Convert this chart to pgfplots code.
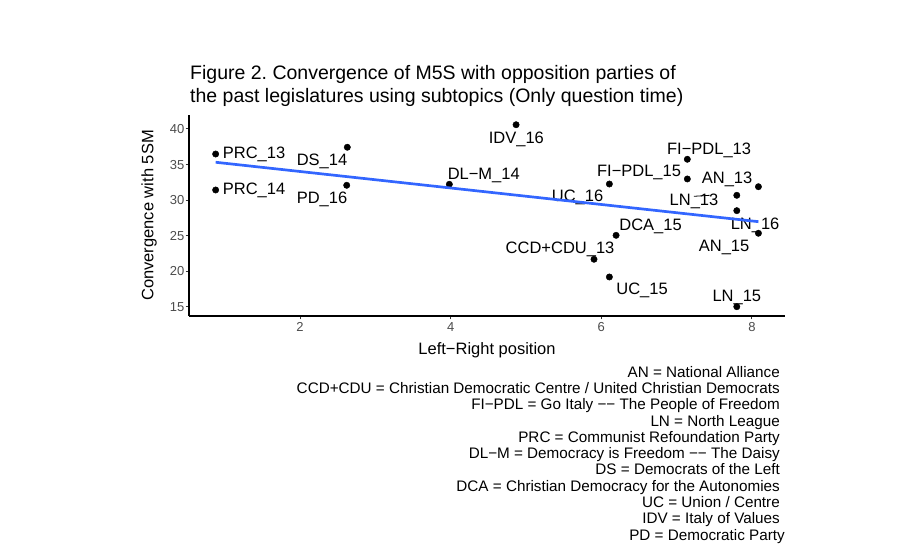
\documentclass[border=0pt]{standalone}
\usepackage{fontspec}
\setmainfont{Liberation Sans}
\usepackage{pgfplots}
\pgfplotsset{compat=1.18}
\definecolor{smoothblue}{RGB}{51,102,255}
\newcommand{\lab}{\fontsize{16.5}{16.5}\selectfont}
\newcommand{\notefont}{\fontsize{15.25}{15.25}\selectfont}
\frenchspacing
\pgfplotsset{
  common/.style={
    at={(189pt,241pt)}, anchor=south west,
    scale only axis, width=596pt, height=201pt,
    xmin=0.526, xmax=8.44, ymin=13.69, ymax=41.97,
    clip=false,
  }
}
\begin{document}
\begin{tikzpicture}[x=1pt,y=1pt]
\useasboundingbox (0,0) rectangle (915,557);
\begin{axis}[
  common,
  axis lines*=left,
  axis line style={line width=1.1pt, black, -},
  xtick={2,4,6,8}, ytick={15,20,25,30,35,40},
  tick align=outside, major tick length=3.5pt,
  tick style={line width=1pt, black!80},
  /pgf/number format/assume math mode=true,
  ticklabel style={font=\fontsize{13}{13}\selectfont, text=black!70},
  xticklabel style={inner sep=0pt, anchor=north, yshift=-3pt},
  yticklabel style={inner sep=0pt, anchor=east, xshift=-1pt},
  xlabel={Left−Right position},
  ylabel={Convergence with 5SM},
  label style={font=\lab},
  xlabel style={at={(axis description cs:0.5,-0.194)}, anchor=base},
  ylabel style={at={(axis description cs:-0.0596,0.5)}, anchor=base},
]
\addplot[only marks, mark=*, mark size=3.2pt, black] coordinates {
(0.880,36.48) (0.880,31.42) (2.628,37.43) (2.620,32.08) (3.983,32.22)
(4.869,40.60) (6.108,32.26) (7.143,32.97) (7.143,35.74) (8.087,31.88)
(7.800,30.67) (7.800,28.51) (8.087,25.33) (6.197,25.04) (5.904,21.67)
(6.108,19.18) (7.800,15.00)
};
\addplot[black, line width=0.8pt] coordinates {(7.23,30.53) (7.44,30.67)};
\node[anchor=base west, font=\lab, inner sep=0pt] at (axis cs:0.973,35.84) {PRC\_13};
\node[anchor=base west, font=\lab, inner sep=0pt] at (axis cs:0.973,30.77) {PRC\_14};
\node[anchor=base, font=\lab, inner sep=0pt] at (axis cs:2.292,34.91) {DS\_14};
\node[anchor=base, font=\lab, inner sep=0pt] at (axis cs:2.292,29.46) {PD\_16};
\node[anchor=base, font=\lab, inner sep=0pt] at (axis cs:4.440,32.84) {DL−M\_14};
\node[anchor=base, font=\lab, inner sep=0pt] at (axis cs:4.873,38.00) {IDV\_16};
\node[anchor=base, font=\lab, inner sep=0pt] at (axis cs:7.432,36.45) {FI−PDL\_13};
\node[anchor=base, font=\lab, inner sep=0pt] at (axis cs:6.502,33.26) {FI−PDL\_15};
\node[anchor=base, font=\lab, inner sep=0pt] at (axis cs:7.671,32.37) {AN\_13};
\node[anchor=base, font=\lab, inner sep=0pt] at (axis cs:7.232,29.18) {LN\_13};
\node[anchor=base, font=\lab, inner sep=0pt] at (axis cs:5.685,29.74) {UC\_16};
\node[anchor=base, font=\lab, inner sep=0pt] at (axis cs:8.043,25.90) {LN\_16};
\node[anchor=base, font=\lab, inner sep=0pt] at (axis cs:7.631,22.71) {AN\_15};
\node[anchor=base, font=\lab, inner sep=0pt] at (axis cs:6.655,25.76) {DCA\_15};
\node[anchor=base, font=\lab, inner sep=0pt] at (axis cs:5.453,22.47) {CCD+CDU\_13};
\node[anchor=base, font=\lab, inner sep=0pt] at (axis cs:6.542,16.76) {UC\_15};
\node[anchor=base, font=\lab, inner sep=0pt] at (axis cs:7.800,15.72) {LN\_15};
\end{axis}
\begin{axis}[common, hide axis]
\addplot[smoothblue, line width=2.7pt, no marks] coordinates {(0.880,35.32) (8.087,26.96)};
\end{axis}
\node[anchor=base west, inner sep=0pt, font=\fontsize{19.5}{19.5}\selectfont] at (190,477) {Figure 2. Convergence of M5S with opposition parties of};
\node[anchor=base west, inner sep=0pt, font=\fontsize{19.5}{19.5}\selectfont] at (190,454.7) {the past legislatures using subtopics (Only question time)};
\begin{scope}[every node/.style={anchor=base east, inner sep=0pt, font=\notefont}]
\node at (780,179.7) {AN = National Alliance};
\node at (780,163.43) {CCD+CDU = Christian Democratic Centre / United Christian Democrats};
\node at (780,147.16) {FI−PDL = Go Italy −− The People of Freedom};
\node at (780,130.89) {LN = North League};
\node at (780,114.62) {PRC = Communist Refoundation Party};
\node at (780,98.35) {DL−M = Democracy is Freedom −− The Daisy};
\node at (780,82.08) {DS = Democrats of the Left};
\node at (780,65.81) {DCA = Christian Democracy for the Autonomies};
\node at (780,49.54) {UC = Union / Centre};
\node at (780,33.27) {IDV = Italy of Values};
\node at (785,17.0) {PD = Democratic Party};
\end{scope}
\end{tikzpicture}
\end{document}
